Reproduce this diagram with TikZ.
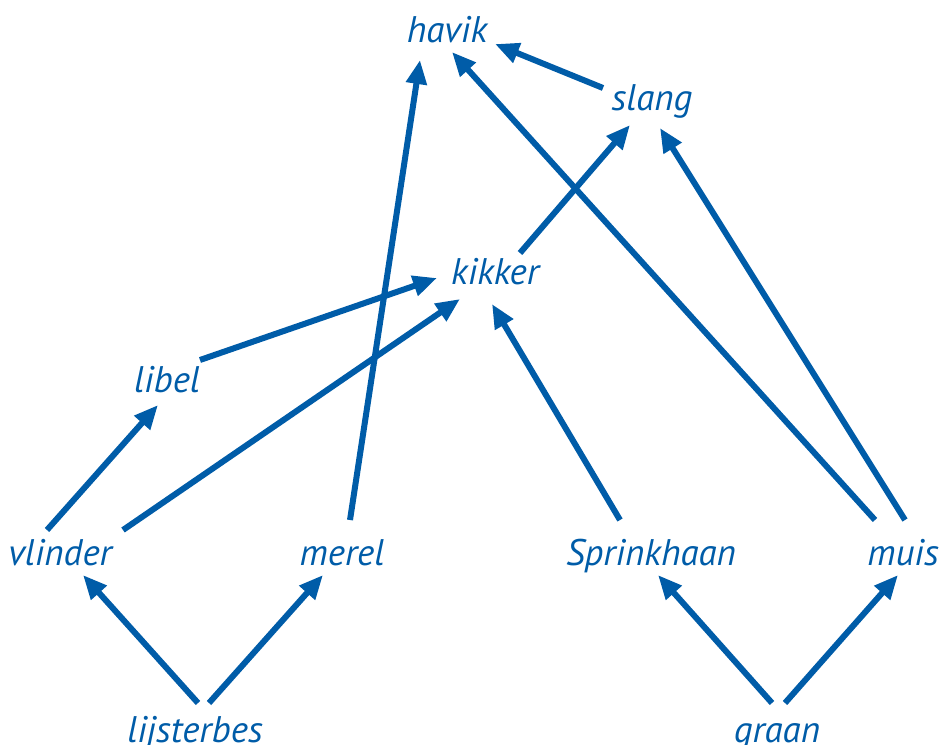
\documentclass[tikz,border=0pt]{standalone}
\usepackage{fontspec}
\setmainfont{PT Sans}
\usetikzlibrary{arrows.meta,calc}
\definecolor{web}{RGB}{0,92,168}
\begin{document}
\begin{tikzpicture}[x=1pt,y=-1pt,
  lbl/.style={anchor=base,inner sep=0pt,text=web,font=\fontsize{37}{44}\selectfont\itshape},
  arr/.style={draw=web,line width=6pt,-{Triangle[length=24pt,width=20pt]}}]
\useasboundingbox (0,0) rectangle (941,744);
\node[lbl] (havik) at (447,42) {havik};
\node[lbl] (slang) at (652,110) {slang};
\node[lbl] (kikker) at (495,284) {kikker};
\node[lbl] (libel) at (167,392) {libel};
\node[lbl] (vlinder) at (60,565) {vlinder};
\node[lbl] (merel) at (342,565) {merel};
\node[lbl] (sprink) at (651,565) {Sprinkhaan};
\node[lbl] (muis) at (903,565) {muis};
\node[lbl] (lijst) at (195,742) {lijsterbes};
\node[lbl] (graan) at (777,742) {graan};
\draw[arr] ($(slang.base)+(-49,-22)$) -- ($(havik.base)+(48,2)$);
\draw[arr] ($(merel.base)+(8,-45)$) -- ($(havik.base)+(-27,18)$);
\draw[arr] ($(muis.base)+(-28,-45)$) -- ($(havik.base)+(5,10)$);
\draw[arr] ($(kikker.base)+(25,-31)$) -- ($(slang.base)+(-22,15)$);
\draw[arr] ($(muis.base)+(2,-45)$) -- ($(slang.base)+(8,18)$);
\draw[arr] ($(libel.base)+(33,-32)$) -- ($(kikker.base)+(-58,-6)$);
\draw[arr] ($(vlinder.base)+(63,-35)$) -- ($(kikker.base)+(-35,15)$);
\draw[arr] ($(sprink.base)+(-31,-45)$) -- ($(kikker.base)+(-3,20)$);
\draw[arr] ($(vlinder.base)+(-13,-35)$) -- ($(libel.base)+(-9,13)$);
\draw[arr] ($(lijst.base)+(3,-39)$) -- ($(vlinder.base)+(23,10)$);
\draw[arr] ($(lijst.base)+(14,-39)$) -- ($(merel.base)+(-19,10)$);
\draw[arr] ($(graan.base)+(-5,-39)$) -- ($(sprink.base)+(7,10)$);
\draw[arr] ($(graan.base)+(8,-39)$) -- ($(muis.base)+(-5,10)$);
\end{tikzpicture}
\end{document}
